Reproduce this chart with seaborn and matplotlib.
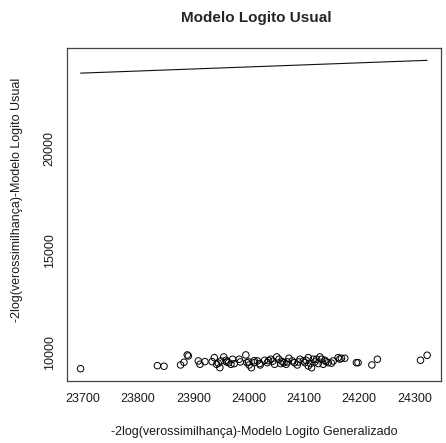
import matplotlib
matplotlib.use("Agg")
import matplotlib.pyplot as plt
import seaborn as sns
import numpy as np
import pandas as pd

# -2log(verossimilhança) values
x_generalizado = [23696, 23835, 23847, 23877, 23883, 23889, 23891, 23909, 23912, 23921,
                  23934, 23938, 23942, 23948, 23950, 23955, 23959, 23964, 23968, 23971,
                  23974, 23983, 23995, 23997, 24001, 24005, 24010, 24016, 24021, 24029,
                  24034, 24040, 24047, 24051, 24055, 24061, 24064, 24068, 24073, 24079,
                  24083, 24088, 24093, 24099, 24102, 24108, 24112, 24117, 24108, 24114,
                  24123, 24129, 24132, 24138, 24135, 24144, 24153, 24162, 24168, 24174,
                  24195, 24198, 24223, 24233, 24311, 24323,
                  23985, 24000, 24020, 24044, 24058, 24070, 24090, 24104, 24120, 24126,
                  24140, 24150, 24165, 23960, 23945, 24010, 24036]
y_usual = [9230, 9377, 9348, 9412, 9544, 9902, 9853, 9608, 9446, 9574,
           9574, 9770, 9446, 9279, 9608, 9804, 9642, 9524, 9446, 9691,
           9475, 9691, 9902, 9524, 9412, 9279, 9524, 9608, 9412, 9642,
           9524, 9691, 9446, 9804, 9691, 9574, 9524, 9446, 9740, 9608,
           9524, 9412, 9691, 9608, 9524, 9770, 9475, 9691, 9363, 9279,
           9691, 9804, 9691, 9642, 9446, 9524, 9608, 9770, 9740, 9740,
           9524, 9524, 9412, 9691, 9642, 9887,
           9560, 9560, 9480, 9600, 9480, 9560, 9560, 9640, 9560, 9480,
           9580, 9500, 9700, 9560, 9500, 9620, 9620]

title = "Modelo Logito Usual"
xlabel = "-2log(verossimilhança)-Modelo Logito Generalizado"
ylabel = "-2log(verossimilhança)-Modelo Logito Usual"
xticks = [23700, 23800, 23900, 24000, 24100, 24200, 24300]
yticks = [10000, 15000, 20000]

sns.set_theme(style="white")
plt.rcParams['font.family'] = ['Liberation Sans', 'DejaVu Sans']
plt.rcParams['savefig.bbox'] = None

df = pd.DataFrame({"x": x_generalizado, "y": y_usual})
xs = sorted(x_generalizado)
line_df = pd.DataFrame({"x": xs, "y": xs})

W, H = 446, 443
L, R, T, B = 66.7, 441.0, 48.0, 381.0
fig = plt.figure(figsize=(W / 100, H / 100), dpi=100)
ax = fig.add_axes([L / W, 1 - B / H, (R - L) / W, (B - T) / H])

sns.lineplot(data=line_df, x="x", y="y", ax=ax, color="#111111", linewidth=0.8,
             estimator=None, sort=True)
sns.scatterplot(data=df, x="x", y="y", ax=ax, marker="o", s=22,
                facecolor="none", edgecolor="black", linewidth=0.7)

allx = x_generalizado
ally = y_usual + xs
xmin, xmax = min(allx), max(allx)
ymin, ymax = min(ally), max(ally)
ax.set_xlim(xmin - 0.04 * (xmax - xmin), xmax + 0.04 * (xmax - xmin))
ax.set_ylim(ymin - 0.04 * (ymax - ymin), ymax + 0.04 * (ymax - ymin))

fs = 9
ax.set_xticks(xticks)
ax.set_xticklabels([str(t) for t in xticks], fontsize=fs, color="#1a1a1a")
ax.set_yticks(yticks)
ax.set_yticklabels([str(t) for t in yticks], fontsize=fs, color="#1a1a1a",
                   rotation=90, va="center")
ax.tick_params(axis="x", direction="out", length=5, width=0.8, color="#333333", pad=4)
ax.tick_params(axis="y", direction="out", length=5, width=0.8, color="#333333", pad=3)

for sp in ax.spines.values():
    sp.set_color("#444444")
    sp.set_linewidth(0.9)

ax.set_xlabel(xlabel, fontsize=fs, color="#1a1a1a")
ax.set_ylabel(ylabel, fontsize=fs, color="#1a1a1a")
ax.xaxis.set_label_coords(0.5, -(432 - B) / (B - T))
ax.xaxis.label.set_verticalalignment("center")
ax.yaxis.set_label_coords(-(L - 17) / (R - L), (B - 200) / (B - T))
ax.yaxis.label.set_verticalalignment("center")

fig.text(((L + R) / 2 + 2) / W, 1 - 18 / H, title, ha="center", va="center",
         fontsize=11, fontweight="bold")

fig.savefig("out.png", dpi=100)
